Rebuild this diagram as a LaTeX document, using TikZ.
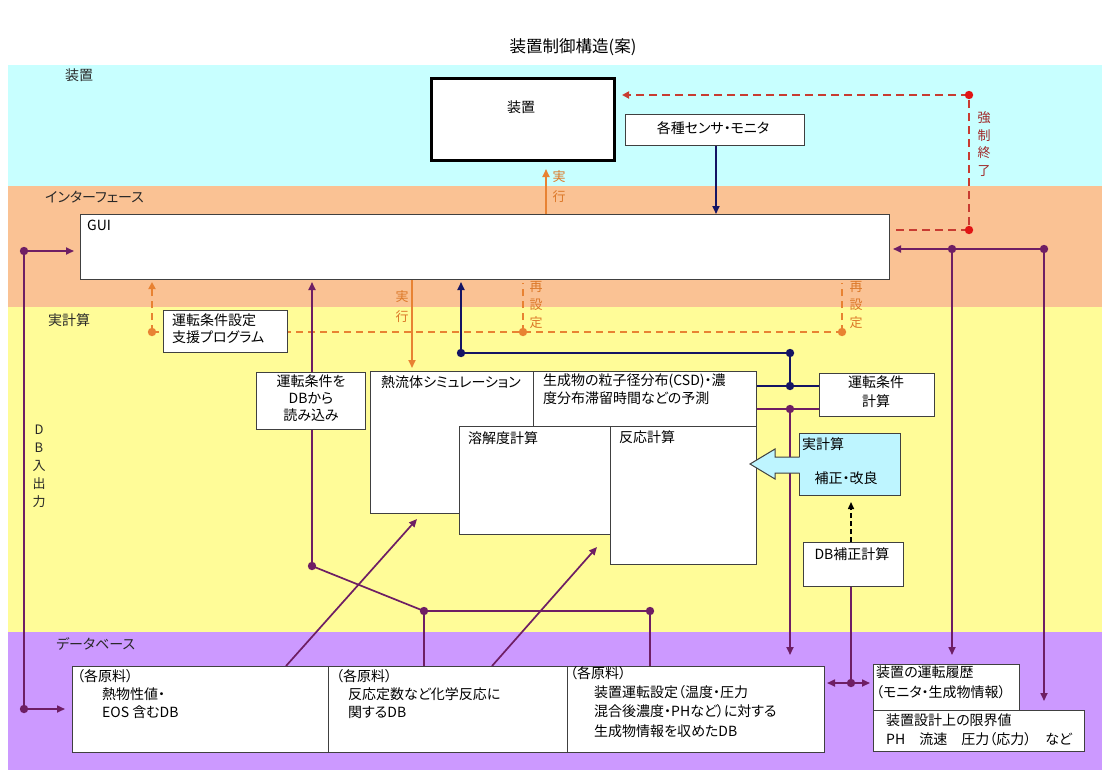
\documentclass[tikz,border=0pt]{standalone}
\usepackage{fontspec}
\setmainfont{Noto Sans CJK JP}[RawFeature={+palt}]
\usetikzlibrary{arrows.meta,calc}
\definecolor{bandcyan}{RGB}{200,255,255}
\definecolor{bandorange}{RGB}{250,194,148}
\definecolor{bandyellow}{RGB}{255,252,152}
\definecolor{bandpurple}{RGB}{204,153,255}
\definecolor{plum}{RGB}{110,30,100}
\definecolor{navyline}{RGB}{20,20,100}
\definecolor{orng}{RGB}{232,130,50}
\definecolor{redd}{RGB}{200,60,50}
\definecolor{reddot}{RGB}{225,20,20}
\definecolor{redtext}{RGB}{160,40,40}
\definecolor{orngtext}{RGB}{220,120,40}
\definecolor{boxline}{RGB}{64,64,64}
\definecolor{boxcyan}{RGB}{190,245,255}
\definecolor{labeltext}{RGB}{40,40,40}
\tikzset{
  bx/.style={draw=boxline, fill=white, line width=1pt, inner sep=0pt, anchor=north west},
  txt/.style={inner sep=0pt, font=\fontsize{14}{18}\selectfont, text=black},
  vtxt/.style={inner sep=0pt, align=center},
  pl/.style={draw=plum, line width=1.7pt},
  nl/.style={draw=navyline, line width=1.7pt},
  ol/.style={draw=orng, line width=1.7pt},
  odash/.style={draw=orng, line width=1.8pt, dash pattern=on 7pt off 5pt},
  rdash/.style={draw=redd, line width=1.8pt, dash pattern=on 8pt off 5pt},
  tip/.style={-{Triangle[length=8pt,width=7pt]}},
}
\begin{document}
\begin{tikzpicture}[x=1pt,y=-1pt]
\useasboundingbox (0,0) rectangle (1102,772);
\fill[white] (0,0) rectangle (1102,772);
% bands
\fill[bandcyan] (8,65) rectangle (1102,186);
\fill[bandorange] (8,186) rectangle (1102,307);
\fill[bandyellow] (8,307) rectangle (1102,632);
\fill[bandpurple] (8,632) rectangle (1102,770);

% title and band labels
\node[txt, font=\fontsize{16.5}{20}\selectfont] (title) at (573,47) {装置制御構造(案)};
\node[txt, anchor=west, text=labeltext] (lb-souchi) at (65,75) {装置};
\node[txt, anchor=west, text=labeltext] (lb-if) at (45,197) {インターフェース};
\node[txt, anchor=west, text=labeltext] (lb-calc) at (48,320) {実計算};
\node[txt, anchor=west, text=labeltext] (lb-db) at (56,644) {データベース};

% coordinates for junctions
\coordinate (dL1) at (24,251);
\coordinate (dL2) at (24,709);
\coordinate (dR1) at (952,249);
\coordinate (dR2) at (1044,249);
\coordinate (rA) at (969,230);
\coordinate (rB) at (969,95);
\coordinate (oA) at (152,332);
\coordinate (oB) at (523,332);
\coordinate (oC) at (842,332);
\coordinate (nA) at (461,353);
\coordinate (nB) at (790,353);
\coordinate (nC) at (790,386);
\coordinate (pA) at (790,409);
\coordinate (pB) at (312,566);
\coordinate (pC) at (424,611);
\coordinate (pD) at (650,611);
\coordinate (pE) at (851,683);

% boxes (drawn as nodes; connectors refer to them)
\node[bx, line width=3pt, draw=black, minimum width=183pt, minimum height=82pt] (souchi) at (430,77) {};
\node[bx, minimum width=179pt, minimum height=31pt] (sensor) at (625,114) {};
\node[bx, minimum width=809pt, minimum height=65pt] (gui) at (80,214) {};
\node[bx, minimum width=109pt, minimum height=57pt] (yomikomi) at (256,372) {};
\node[bx, minimum width=115pt, minimum height=43pt] (unten) at (819,373) {};
\node[bx, minimum width=100pt, minimum height=44pt] (dbhosei) at (803,542) {};
\node[bx, minimum width=256pt, minimum height=86pt] (db1) at (72,666) {};
\node[bx, minimum width=239pt, minimum height=86pt] (db2) at (328,666) {};
\node[bx, minimum width=257pt, minimum height=86pt] (db3) at (567,666) {};
\node[bx, minimum width=146pt, minimum height=46pt] (rireki) at (873,664) {};
\node[bx, minimum width=211pt, minimum height=41pt] (genkai) at (873,710) {};

% ---- connectors ----
% left DB in/out
\draw[pl] (dL1) -- (dL2);
\draw[pl, tip, shorten >=6pt] (dL1) -- (gui.west |- dL1);
\draw[pl, tip, shorten >=7pt] (dL2) -- (db1.west |- dL2);
% right history lines
\draw[pl] (dR2) -- (dR1);
\draw[pl, tip, shorten >=3pt] (dR1) -- (gui.east |- dR1);
\draw[pl, tip, shorten >=9pt] (dR1) -- (dR1 |- rireki.north);
\draw[pl, tip, shorten >=9pt] (dR2) -- (dR2 |- genkai.north);
% forced stop (red dashed)
\draw[rdash] ([xshift=6pt]gui.east |- rA) -- (rA) -- (rB);
\draw[rdash, -{Triangle[length=7pt,width=7pt]}, shorten >=6pt] (rB) -- (souchi.east |- rB);
% execute to device
\draw[ol, tip, shorten >=7pt] (gui.north -| 546,0) -- (souchi.south -| 546,0);
% sensor to GUI
\draw[nl, tip] (sensor.south -| 716,0) -- (gui.north -| 716,0);
% execute to simulation
\draw[ol, tip, shorten >=3pt] (gui.south -| 412,0) -- (412,371);
% orange dashed reset lines
\draw[odash] (oA) -- (oC);
\draw[odash, -{Triangle[length=7pt,width=7pt]}, shorten >=2pt] (oA) -- (gui.south -| oA);
\draw[odash, shorten >=3pt] (oB) -- (gui.south -| oB);
\draw[odash, shorten >=3pt] (oC) -- (gui.south -| oC);
% navy result lines
\draw[nl, tip, shorten >=2pt] (nA) -- (gui.south -| nA);
\draw[nl] (nA) -- (nB) -- (nC);
\draw[nl] (756,386) -- (unten.west |- nC);
% purple operating-condition line
\draw[pl] (756,409) -- (unten.west |- pA);
\draw[pl, tip, shorten >=11pt] (pA) -- (pA |- db3.north);
% DB read
\draw[pl, tip, shorten >=2pt] (yomikomi.north -| pB) -- (gui.south -| pB);
\draw[pl] (yomikomi.south -| pB) -- (pB) -- (pC) -- (pD);
\draw[pl] (pC) -- (pC |- db2.north);
\draw[pl] (pD) -- (pD |- db3.north);
% DB to simulations (diagonals)
\coordinate (diag1) at (286,666);
\coordinate (diag1t) at (417,519);
\coordinate (diag2) at (492,666);
\coordinate (diag2t) at (597,547);
\draw[pl, tip] (diag1) -- (diag1t);
\draw[pl, tip] (diag2) -- (diag2t);
% DB correction
\draw[pl] (dbhosei.south -| pE) -- (pE);
\draw[pl, {Triangle[length=8pt,width=7pt]}-{Triangle[length=8pt,width=7pt]}, shorten <=2pt, shorten >=3pt] (db3.east |- pE) -- (rireki.west |- pE);

% dots
\foreach \c in {dL1,dL2,dR1,dR2,pA,pB,pC,pD,pE} \fill[plum] (\c) circle (4.2pt);
\foreach \c in {nA,nB,nC} \fill[navyline] (\c) circle (4.2pt);
\foreach \c in {oA,oB,oC} \fill[orng] (\c) circle (4.2pt);
\foreach \c in {rA,rB} \fill[reddot] (\c) circle (4.2pt);

% boxes drawn over lines
\node[bx, minimum width=124pt, minimum height=42pt] (shien) at (163,310) {};
\node[bx, minimum width=163pt, minimum height=142pt] (netsu) at (370,371) {};
\node[bx, minimum width=223pt, minimum height=55pt] (seisei) at (533,371) {};
\node[bx, minimum width=151pt, minimum height=108pt] (youkai) at (459,426) {};
\node[bx, minimum width=146pt, minimum height=138pt] (hannou) at (610,426) {};
\node[bx, fill=boxcyan, minimum width=101pt, minimum height=62pt] (hosei) at (799,433) {};
% block arrow from correction box
\fill[boxcyan] (801,457) -- (775,457) -- (775,449) -- (750,464) -- (775,479) -- (775,473) -- (801,473) -- cycle;
\draw[boxline, line width=1pt] (799.5,457) -- (775,457) -- (775,449) -- (750,464) -- (775,479) -- (775,473) -- (799.5,473);
% DB correction dashed arrow
\draw[black, line width=1.5pt, dash pattern=on 5pt off 3pt, -{Triangle[length=7pt,width=6pt]}, shorten >=6pt] (dbhosei.north -| pE) -- (hosei.south -| pE);

% ---- texts ----
\node[txt] (t-souchi) at (521,107) {装置};
\node[txt] (t-sensor) at (713,128) {各種センサ・モニタ};
\node[txt, anchor=west] (t-gui) at (87,225) {GUI};
\node[txt, anchor=north west, align=left, font=\fontsize{14}{17}\selectfont] (t-shien) at (172,314) {運転条件設定\\支援プログラム};
\node[txt, anchor=north, align=center, font=\fontsize{14}{17}\selectfont] (t-yomi) at (311,375) {運転条件を\\DBから\\読み込み};
\node[txt, anchor=west] (t-netsu) at (381,382) {熱流体シミュレーション};
\node[txt, anchor=north west, align=left, font=\fontsize{14}{18}\selectfont] (t-seisei) at (543,374) {生成物の粒子径分布(CSD)・濃\\度分布滞留時間などの予測};
\node[txt, anchor=west] (t-youkai) at (468,438) {溶解度計算};
\node[txt, anchor=west] (t-hannou) at (619,437) {反応計算};
\node[txt, anchor=north, align=center, font=\fontsize{14}{19}\selectfont] (t-unten) at (876,376) {運転条件\\計算};
\node[txt, anchor=west] (t-jikei) at (802,444) {実計算};
\node[txt] (t-hosei) at (846,478) {補正・改良};
\node[txt] (t-dbhosei) at (852,554) {DB補正計算};
\node[txt, anchor=north west, align=left, font=\fontsize{14}{18}\selectfont] (t-db1) at (77,669) {（各原料）\\\hspace*{25pt}熱物性値・\\\hspace*{25pt}EOS 含むDB};
\node[txt, anchor=north west, align=left, font=\fontsize{14}{18}\selectfont] (t-db2) at (336,669) {（各原料）\\\hspace*{12pt}反応定数など化学反応に\\\hspace*{12pt}関するDB};
\node[txt, anchor=north west, align=left, font=\fontsize{14}{19.3}\selectfont] (t-db3) at (570,666) {（各原料）\\\hspace*{24pt}装置運転設定（温度・圧力\\\hspace*{24pt}混合後濃度・PHなど）に対する\\\hspace*{24pt}生成物情報を収めたDB};
\node[txt, anchor=north west, align=left, font=\fontsize{14}{20}\selectfont] (t-rireki) at (876,666) {装置の運転履歴\\（モニタ・生成物情報）};
\node[txt, anchor=north west, align=left, font=\fontsize{14}{19}\selectfont] (t-genkai) at (886,714) {装置設計上の限界値\\PH　流速　圧力（応力）　など};

% vertical labels
\node[vtxt, text=redtext, font=\fontsize{13}{17.6}\selectfont] (t-kyousei) at (984,144) {強\\制\\終\\了};
\node[vtxt, text=orngtext, font=\fontsize{13}{20}\selectfont] (t-jikkou1) at (559,187) {実\\行};
\node[vtxt, text=orngtext, font=\fontsize{13}{20}\selectfont] (t-jikkou2) at (402,307) {実\\行};
\node[vtxt, text=orngtext, font=\fontsize{13}{18}\selectfont] (t-saisettei1) at (536,305) {再\\設\\定};
\node[vtxt, text=orngtext, font=\fontsize{13}{18}\selectfont] (t-saisettei2) at (856,305) {再\\設\\定};
\node[vtxt, text=labeltext, font=\fontsize{13}{18}\selectfont] (t-dbio) at (39,466) {D\\B\\入\\出\\力};
\end{tikzpicture}
\end{document}
